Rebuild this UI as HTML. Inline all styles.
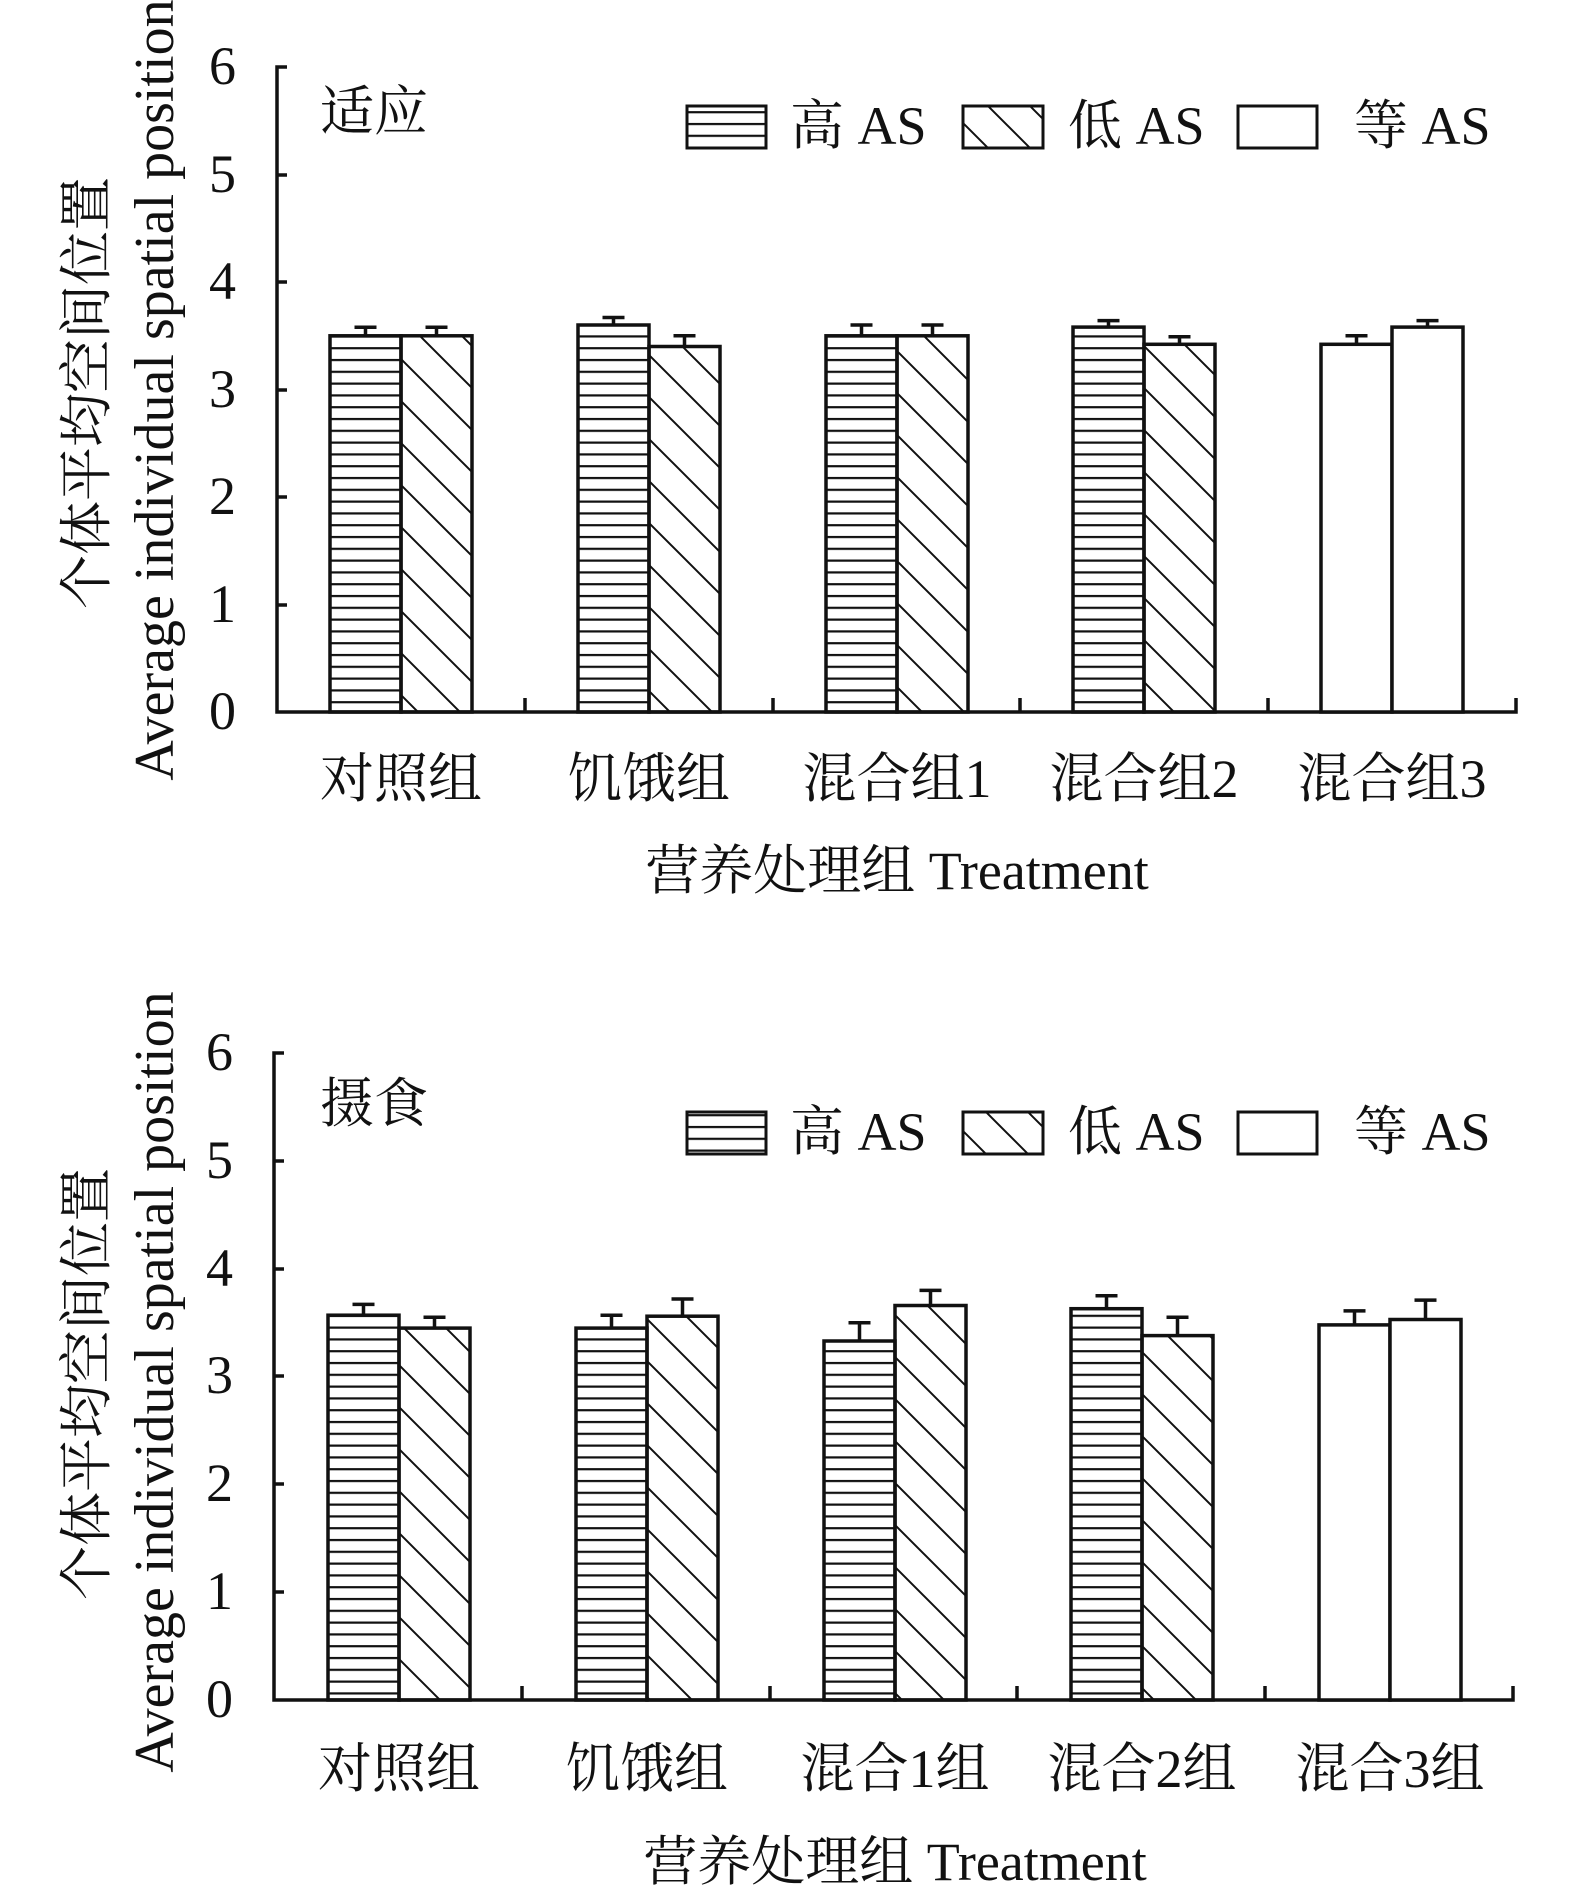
<!DOCTYPE html>
<html><head><meta charset="utf-8"><style>
html,body{margin:0;padding:0;background:#fff}
svg{display:block}
text{font-family:"Liberation Serif","Noto Serif CJK SC",serif;fill:#111}
</style></head><body>
<svg width="1575" height="1887" viewBox="0 0 1575 1887" xmlns="http://www.w3.org/2000/svg">
<defs>
<pattern id="hz" patternUnits="userSpaceOnUse" width="20" height="11.8"><line x1="0" y1="6" x2="20" y2="6" stroke="#111" stroke-width="2.2"/></pattern>
<pattern id="dg" patternUnits="userSpaceOnUse" width="42" height="42"><path d="M-4,-4 L46,46 M-46,-4 L4,46 M38,-4 L88,46" stroke="#111" stroke-width="2"/></pattern>
</defs>
<g stroke="#111" fill="none" stroke-width="3.5">
<path d="M287,67 H277 V712 H1516 V698"/>
<path d="M277,175 H287 M277,282 H287 M277,390 H287 M277,497 H287 M277,605 H287"/>
<path d="M525,712 V698 M773,712 V698 M1020,712 V698 M1268,712 V698"/>
<rect x="330" y="335.8" width="71" height="376.2" fill="url(#hz)"/>
<rect x="401" y="335.8" width="71" height="376.2" fill="url(#dg)"/>
<rect x="578" y="325" width="71" height="387" fill="url(#hz)"/>
<rect x="649" y="346.5" width="71" height="365.5" fill="url(#dg)"/>
<rect x="826" y="335.8" width="71" height="376.2" fill="url(#hz)"/>
<rect x="897" y="335.8" width="71" height="376.2" fill="url(#dg)"/>
<rect x="1073" y="327.1" width="71" height="384.9" fill="url(#hz)"/>
<rect x="1144" y="344.3" width="71" height="367.7" fill="url(#dg)"/>
<rect x="1321" y="344.3" width="71" height="367.7" fill="#fff"/>
<rect x="1392" y="327.1" width="71" height="384.9" fill="#fff"/>
<path d="M365.5,335.8 V327.2 M354.5,327.2 H376.5 M436.5,335.8 V327.2 M425.5,327.2 H447.5"/>
<path d="M613.5,325 V317.5 M602.5,317.5 H624.5 M684.5,346.5 V335.8 M673.5,335.8 H695.5"/>
<path d="M861.5,335.8 V325 M850.5,325 H872.5 M932.5,335.8 V325 M921.5,325 H943.5"/>
<path d="M1108.5,327.1 V320.6 M1097.5,320.6 H1119.5 M1179.5,344.3 V336.8 M1168.5,336.8 H1190.5"/>
<path d="M1356.5,344.3 V335.7 M1345.5,335.7 H1367.5 M1427.5,327.1 V320.6 M1416.5,320.6 H1438.5"/>
<rect x="687" y="106" width="79" height="42" fill="url(#hz)" stroke-width="3"/>
<rect x="963" y="106" width="80" height="42" fill="url(#dg)" stroke-width="3"/>
<rect x="1238" y="106" width="79" height="42" fill="#fff" stroke-width="3"/>

<path d="M284,1053 H274 V1700 H1513 V1686"/>
<path d="M274,1161 H284 M274,1269 H284 M274,1376 H284 M274,1484 H284 M274,1592 H284"/>
<path d="M522,1700 V1686 M770,1700 V1686 M1017,1700 V1686 M1265,1700 V1686"/>
<rect x="328" y="1315.2" width="71" height="384.8" fill="url(#hz)"/>
<rect x="399" y="1328.1" width="71" height="371.9" fill="url(#dg)"/>
<rect x="576" y="1328.1" width="71" height="371.9" fill="url(#hz)"/>
<rect x="647" y="1316.2" width="71" height="383.8" fill="url(#dg)"/>
<rect x="824" y="1341" width="71" height="359" fill="url(#hz)"/>
<rect x="895" y="1305.5" width="71" height="394.5" fill="url(#dg)"/>
<rect x="1071" y="1308.7" width="71" height="391.3" fill="url(#hz)"/>
<rect x="1142" y="1335.6" width="71" height="364.4" fill="url(#dg)"/>
<rect x="1319" y="1324.9" width="71" height="375.1" fill="#fff"/>
<rect x="1390" y="1319.5" width="71" height="380.5" fill="#fff"/>
<path d="M363.5,1315.2 V1304.4 M352.5,1304.4 H374.5 M434.5,1328.1 V1317.3 M423.5,1317.3 H445.5"/>
<path d="M611.5,1328.1 V1315.2 M600.5,1315.2 H622.5 M682.5,1316.2 V1299 M671.5,1299 H693.5"/>
<path d="M859.5,1341 V1322.7 M848.5,1322.7 H870.5 M930.5,1305.5 V1290.4 M919.5,1290.4 H941.5"/>
<path d="M1106.5,1308.7 V1295.8 M1095.5,1295.8 H1117.5 M1177.5,1335.6 V1317.3 M1166.5,1317.3 H1188.5"/>
<path d="M1354.5,1324.9 V1310.9 M1343.5,1310.9 H1365.5 M1425.5,1319.5 V1300.1 M1414.5,1300.1 H1436.5"/>
<rect x="687" y="1112" width="79" height="42" fill="url(#hz)" stroke-width="3"/>
<rect x="963" y="1112" width="80" height="42" fill="url(#dg)" stroke-width="3"/>
<rect x="1238" y="1112" width="79" height="42" fill="#fff" stroke-width="3"/>
</g>

<g font-size="54" text-anchor="end">
<text x="236" y="84">6</text><text x="236" y="192">5</text><text x="236" y="299">4</text>
<text x="236" y="407">3</text><text x="236" y="514">2</text><text x="236" y="622">1</text><text x="236" y="729">0</text>
</g>
<text x="320" y="130" font-size="54">适应</text>
<g font-size="54">
<text x="790" y="144">高 AS</text><text x="1068" y="144">低 AS</text><text x="1354" y="144">等 AS</text>
</g>
<g font-size="54" text-anchor="middle">
<text x="401" y="797">对照组</text><text x="649" y="797">饥饿组</text>
<text x="897" y="797">混合组1</text><text x="1144" y="797">混合组2</text><text x="1392" y="797">混合组3</text>
<text x="897" y="889">营养处理组 Treatment</text>
</g>
<g text-anchor="middle">
<text font-size="54" transform="translate(105,393) rotate(-90)">个体平均空间位置</text>
<text font-size="56" transform="translate(173,390) rotate(-90)">Average individual spatial position</text>
</g>

<g font-size="54" text-anchor="end">
<text x="233" y="1070">6</text><text x="233" y="1178">5</text><text x="233" y="1286">4</text>
<text x="233" y="1393">3</text><text x="233" y="1501">2</text><text x="233" y="1609">1</text><text x="233" y="1717">0</text>
</g>
<text x="320" y="1122" font-size="54">摄食</text>
<g font-size="54">
<text x="790" y="1150">高 AS</text><text x="1068" y="1150">低 AS</text><text x="1354" y="1150">等 AS</text>
</g>
<g font-size="54" text-anchor="middle">
<text x="399" y="1787">对照组</text><text x="647" y="1787">饥饿组</text>
<text x="895" y="1787">混合1组</text><text x="1142" y="1787">混合2组</text><text x="1390" y="1787">混合3组</text>
<text x="895" y="1880">营养处理组 Treatment</text>
</g>
<g text-anchor="middle">
<text font-size="54" transform="translate(105,1384) rotate(-90)">个体平均空间位置</text>
<text font-size="56" transform="translate(173,1382) rotate(-90)">Average individual spatial position</text>
</g>
</svg>
</body></html>
